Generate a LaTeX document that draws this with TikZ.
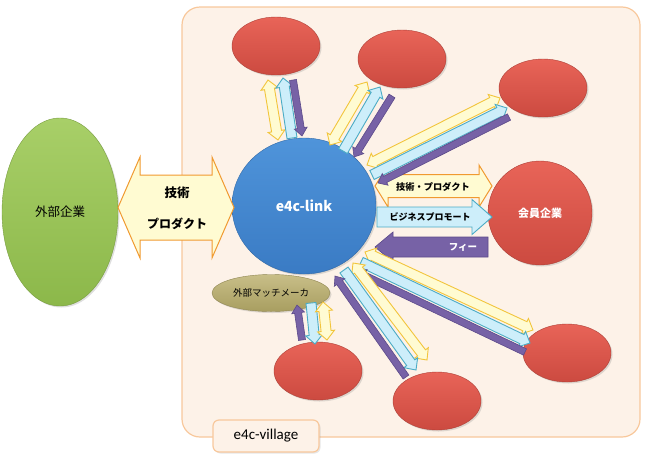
\documentclass[tikz,border=0pt]{standalone}
\usepackage{fontspec}
\setmainfont{Noto Sans CJK JP}
\newfontfamily\jp{Noto Sans CJK JP}
\newfontfamily\lat{Carlito}
\usetikzlibrary{calc,shapes.geometric,shadows}
\definecolor{villfill}{HTML}{FDF2E8}
\definecolor{villedge}{HTML}{F8C89C}
\definecolor{redA}{HTML}{E86458}
\definecolor{redB}{HTML}{CC4A40}
\definecolor{blueA}{HTML}{4F94DA}
\definecolor{blueB}{HTML}{3A7BC4}
\definecolor{greenA}{HTML}{A8CF68}
\definecolor{greenB}{HTML}{8CB84A}
\definecolor{oliveA}{HTML}{C8BE88}
\definecolor{oliveB}{HTML}{A89E60}
\definecolor{yfill}{HTML}{FFFBD2}
\definecolor{yedge}{HTML}{F2C53C}
\definecolor{oedge}{HTML}{F09A30}
\definecolor{bfill}{HTML}{CDEEFA}
\definecolor{bedge}{HTML}{4BACC6}
\definecolor{pfill}{HTML}{7762A6}
\definecolor{pedge}{HTML}{5C4A8A}
\newcommand\sarrow[6]{%
  \coordinate (hS) at ($(#2)!#5!(#1)$);
  \path[#6] ($(#1)!#3!90:(#2)$) -- ($(hS)!#3!90:(#2)$) -- ($(hS)!#4!90:(#2)$) -- (#2)
    -- ($(hS)!#4!-90:(#2)$) -- ($(hS)!#3!-90:(#2)$) -- ($(#1)!#3!-90:(#2)$) -- cycle;}
\newcommand\darrow[6]{%
  \coordinate (hA) at ($(#1)!#5!(#2)$);
  \coordinate (hB) at ($(#2)!#5!(#1)$);
  \path[#6] (#1) -- ($(hA)!#4!90:(#2)$) -- ($(hA)!#3!90:(#2)$) -- ($(hB)!#3!90:(#2)$)
    -- ($(hB)!#4!90:(#2)$) -- (#2) -- ($(hB)!#4!-90:(#2)$) -- ($(hB)!#3!-90:(#2)$)
    -- ($(hA)!#3!-90:(#2)$) -- ($(hA)!#4!-90:(#2)$) -- cycle;}
\tikzset{
  village/.style={fill=villfill, draw=villedge, line width=1.2pt, rounded corners=18pt},
  lblbox/.style={fill=villfill, draw=villedge, line width=1.2pt, rounded corners=6pt,
    minimum width=106pt, minimum height=32pt, inner sep=0pt, font=\lat\fontsize{15}{15}\selectfont,
    drop shadow={opacity=0.2, shadow xshift=1.5pt, shadow yshift=-1.5pt}},
  blob/.style={ellipse, inner sep=0pt, draw=#1B!85!black, line width=0.4pt,
    top color=#1A, bottom color=#1B,
    drop shadow={opacity=0.25, shadow xshift=1.5pt, shadow yshift=-1.5pt}},
  redell/.style={blob=red, minimum width=88pt, minimum height=58pt},
  yarr/.style={fill=yfill, draw=yedge, line width=0.9pt, line join=miter},
  oarr/.style={fill=yfill, draw=oedge, line width=1pt, line join=miter},
  barr/.style={fill=bfill, draw=bedge, line width=0.9pt, line join=miter},
  parr/.style={fill=pfill, draw=pedge, line width=0.6pt, line join=miter},
  lab/.style={inner sep=0pt, font=\jp\bfseries\fontsize{#1}{#1}\selectfont},
}
\begin{document}
\begin{tikzpicture}[x=1pt, y=-1pt]
\useasboundingbox (0,0) rectangle (647,461);
\path[village] (182,7) rectangle (640,437);
% nodes
\node[blob=green, minimum width=116pt, minimum height=188pt, font=\jp\fontsize{12.5}{12.5}\selectfont] (ext) at (60,212) {外部企業};
\node[blob=blue, minimum width=144pt, minimum height=136pt, text=white, font=\jp\bfseries\fontsize{14}{14}\selectfont] (link) at (304,206) {e4c-link};
\node[blob=olive, minimum width=118pt, minimum height=37pt, font=\jp\fontsize{9.5}{9.5}\selectfont] (mm) at (271,293) {外部マッチメーカ};
\node[blob=red, minimum width=104pt, minimum height=104pt, text=white, font=\jp\bfseries\fontsize{11}{11}\selectfont] (mem) at (540,213) {会員企業};
\node[redell] (r1) at (276,46) {};
\node[redell] (r2) at (402,59) {};
\node[redell] (r3) at (543,88) {};
\node[redell] (r4) at (567,353) {};
\node[redell] (r5) at (437,401) {};
\node[redell] (r6) at (318,371) {};
\node[lblbox] (lbl) at (266,436) {e4c-village};
% endpoint coordinates
\coordinate (bigL) at (118,207.5); \coordinate (bigR) at (234,207.5);
\coordinate (tpL) at (375,186); \coordinate (tpR) at (492,186);
\coordinate (bpL) at (377,217); \coordinate (bpR) at (492,217);
\coordinate (feL) at (375,247); \coordinate (feR) at (488,247);
\coordinate (s1yA) at (278,140); \coordinate (s1yB) at (268,80);
\coordinate (s1bA) at (292,138); \coordinate (s1bB) at (283,78);
\coordinate (s1pA) at (302,136); \coordinate (s1pB) at (293,80);
\coordinate (s2yA) at (330,145); \coordinate (s2yB) at (367,82);
\coordinate (s2bA) at (343,151); \coordinate (s2bB) at (380,87);
\coordinate (s2pA) at (354,157); \coordinate (s2pB) at (392,96);
\coordinate (s3yA) at (367,165); \coordinate (s3yB) at (500,98);
\coordinate (s3bA) at (372,175); \coordinate (s3bB) at (507,108);
\coordinate (s3pA) at (378,183); \coordinate (s3pB) at (509,117);
\coordinate (s4yA) at (365,252); \coordinate (s4yB) at (533,330);
\coordinate (s4bA) at (361,262); \coordinate (s4bB) at (530,343);
\coordinate (s4pA) at (357,272); \coordinate (s4pB) at (525,352);
\coordinate (s5yA) at (353,263); \coordinate (s5yB) at (427,360);
\coordinate (s5bA) at (344,270); \coordinate (s5bB) at (416,370);
\coordinate (s5pA) at (335,276); \coordinate (s5pB) at (406,377);
\coordinate (s6pA) at (297,305); \coordinate (s6pB) at (302,340);
\coordinate (s6bA) at (311,303); \coordinate (s6bB) at (315,344);
\coordinate (s6yA) at (323,302); \coordinate (s6yB) at (327,340);
% big arrows
\darrow{bigL}{bigR}{32.5pt}{50.5pt}{22pt}{oarr}
\node[lab=12.5] (t1) at (177,193) {技術};
\node[lab=12] (t2) at (177,224) {プロダクト};
\darrow{tpL}{tpR}{11.5pt}{21pt}{13pt}{oarr}
\sarrow{bpL}{bpR}{10pt}{17.5pt}{20pt}{barr}
\sarrow{feR}{feL}{10pt}{15pt}{18pt}{parr}
\node[lab=9.2] (t3) at (433,187) {技術・プロダクト};
\node[lab=9] (t4) at (430,217) {ビジネスプロモート};
\node[lab=9.5, text=white] (t5) at (463,247) {フィー};
% spokes
\darrow{s1yA}{s1yB}{5pt}{8.5pt}{9pt}{yarr}
\sarrow{s1bA}{s1bB}{5pt}{8.5pt}{9pt}{barr}
\sarrow{s1pB}{s1pA}{3.5pt}{6.5pt}{8pt}{parr}
\darrow{s2yA}{s2yB}{5pt}{8.5pt}{9pt}{yarr}
\sarrow{s2bA}{s2bB}{5pt}{8.5pt}{9pt}{barr}
\sarrow{s2pB}{s2pA}{3.5pt}{6.5pt}{8pt}{parr}
\darrow{s3yA}{s3yB}{5pt}{8.5pt}{9pt}{yarr}
\sarrow{s3bA}{s3bB}{5pt}{8.5pt}{9pt}{barr}
\sarrow{s3pB}{s3pA}{3.5pt}{6.5pt}{8pt}{parr}
\darrow{s4yA}{s4yB}{5pt}{8.5pt}{9pt}{yarr}
\sarrow{s4bA}{s4bB}{5pt}{8.5pt}{9pt}{barr}
\sarrow{s4pB}{s4pA}{3.5pt}{6.5pt}{8pt}{parr}
\darrow{s5yA}{s5yB}{5pt}{8.5pt}{9pt}{yarr}
\sarrow{s5bA}{s5bB}{5pt}{8.5pt}{9pt}{barr}
\sarrow{s5pB}{s5pA}{3.5pt}{6.5pt}{8pt}{parr}
\sarrow{s6pB}{s6pA}{3.5pt}{6.5pt}{8pt}{parr}
\sarrow{s6bA}{s6bB}{5pt}{8.5pt}{9pt}{barr}
\darrow{s6yA}{s6yB}{5pt}{8.5pt}{9pt}{yarr}
\end{tikzpicture}
\end{document}
